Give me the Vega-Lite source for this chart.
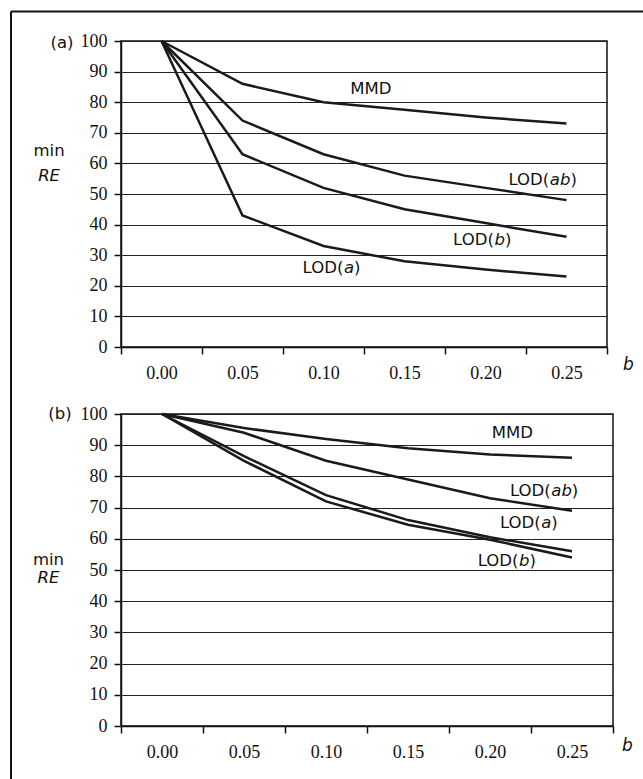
{
  "$schema": "https://vega.github.io/schema/vega-lite/v6.json",
  "padding": {"left": 9, "top": 9, "right": 0, "bottom": 0},
  "background": "white",
  "bounds": "flush",
  "spacing": 67,
  "config": {
    "view": {"stroke": "#111", "strokeWidth": 1.5},
    "axis": {
      "domainColor": "#111", "domainWidth": 1.5,
      "tickColor": "#111", "tickWidth": 1.5, "tickSize": 7,
      "gridColor": "#222", "gridWidth": 1, "gridOpacity": 1,
      "labelFont": "Liberation Serif", "labelFontSize": 18, "labelColor": "#111"
    },
    "text": {"font": "DejaVu Sans", "fontSize": 16.5, "color": "#111", "baseline": "middle"}
  },
  "vconcat": [
    {
      "width": 486,
      "height": 306,
      "resolve": {"axis": {"x": "independent", "y": "independent"}},
      "layer": [
        {
          "data": {"values": [
            {"s": "MMD", "b": 0.00, "re": 100}, {"s": "MMD", "b": 0.05, "re": 86}, {"s": "MMD", "b": 0.10, "re": 80}, {"s": "MMD", "b": 0.15, "re": 77.5}, {"s": "MMD", "b": 0.20, "re": 75}, {"s": "MMD", "b": 0.25, "re": 73},
            {"s": "LOD(ab)", "b": 0.00, "re": 100}, {"s": "LOD(ab)", "b": 0.05, "re": 74}, {"s": "LOD(ab)", "b": 0.10, "re": 63}, {"s": "LOD(ab)", "b": 0.15, "re": 56}, {"s": "LOD(ab)", "b": 0.20, "re": 52}, {"s": "LOD(ab)", "b": 0.25, "re": 48},
            {"s": "LOD(b)", "b": 0.00, "re": 100}, {"s": "LOD(b)", "b": 0.05, "re": 63}, {"s": "LOD(b)", "b": 0.10, "re": 52}, {"s": "LOD(b)", "b": 0.15, "re": 45}, {"s": "LOD(b)", "b": 0.20, "re": 40.5}, {"s": "LOD(b)", "b": 0.25, "re": 36},
            {"s": "LOD(a)", "b": 0.00, "re": 100}, {"s": "LOD(a)", "b": 0.05, "re": 43}, {"s": "LOD(a)", "b": 0.10, "re": 33}, {"s": "LOD(a)", "b": 0.15, "re": 28}, {"s": "LOD(a)", "b": 0.20, "re": 25.3}, {"s": "LOD(a)", "b": 0.25, "re": 23}
          ]},
          "mark": {"type": "line", "color": "#1a1a1a", "strokeWidth": 2.5},
          "encoding": {
            "x": {"field": "b", "type": "quantitative", "title": null,
              "scale": {"domain": [-0.025, 0.275], "nice": false, "zero": false},
              "axis": {"values": [-0.025, 0.025, 0.075, 0.125, 0.175, 0.225, 0.275], "grid": false, "labelExpr": "datum.value > 0.26 ? '' : format(round((datum.value + 0.025) * 100) / 100, '.2f')", "labelOffset": 40.5, "labelFlush": false, "labelOverlap": false, "labelPadding": 10, "title": null}},
            "y": {"field": "re", "type": "quantitative", "title": null,
              "scale": {"domain": [0, 100], "nice": false},
              "axis": {"values": [0, 10, 20, 30, 40, 50, 60, 70, 80, 90, 100], "grid": true, "labelOverlap": false, "labelPadding": 7, "title": null}},
            "detail": {"field": "s"}
          }
        },
        {
          "data": {"values": [
            {"t": "MMD", "x": 0.1165, "y": 84.3},
            {"t": "LOD(", "x": 0.2142, "y": 54.7}, {"t": ")", "x": 0.2524, "y": 54.7},
            {"t": "LOD(", "x": 0.1800, "y": 35.0}, {"t": ")", "x": 0.2120, "y": 35.0},
            {"t": "LOD(", "x": 0.0871, "y": 25.9}, {"t": ")", "x": 0.1188, "y": 25.9}
          ]},
          "mark": {"type": "text", "align": "left"},
          "encoding": {"x": {"field": "x", "type": "quantitative", "axis": null}, "y": {"field": "y", "type": "quantitative", "axis": null}, "text": {"field": "t"}}
        },
        {
          "data": {"values": [
            {"t": "ab", "x": 0.2397, "y": 54.7}, {"t": "b", "x": 0.2055, "y": 35.0}, {"t": "a", "x": 0.1126, "y": 25.9}
          ]},
          "mark": {"type": "text", "align": "left", "fontStyle": "italic"},
          "encoding": {"x": {"field": "x", "type": "quantitative", "axis": null}, "y": {"field": "y", "type": "quantitative", "axis": null}, "text": {"field": "t"}}
        },
        {
          "data": {"values": [{}]},
          "mark": {"type": "text", "align": "center"},
          "encoding": {"x": {"datum": -0.0694, "axis": null}, "y": {"datum": 63.9, "axis": null}, "text": {"value": "min"}}
        },
        {
          "data": {"values": [{}]},
          "mark": {"type": "text", "align": "center", "fontStyle": "italic"},
          "encoding": {"x": {"datum": -0.0694, "axis": null}, "y": {"datum": 55.8, "axis": null}, "text": {"value": "RE"}}
        },
        {
          "data": {"values": [{}]},
          "mark": {"type": "text", "align": "center", "fontStyle": "italic", "fontSize": 17},
          "encoding": {"x": {"datum": 0.2882, "axis": null}, "y": {"datum": -5.87, "axis": null}, "text": {"value": "b"}}
        },
        {
          "data": {"values": [{}]},
          "mark": {"type": "text", "align": "right"},
          "encoding": {"x": {"datum": -0.0543, "axis": null}, "y": {"datum": 99.2, "axis": null}, "text": {"value": "(a)"}}
        },
        {
          "data": {"values": [{}]},
          "mark": {"type": "rule", "color": "#111", "strokeWidth": 2},
          "encoding": {"x": {"datum": -0.0929, "axis": null}, "x2": {"datum": 0.2977}, "y": {"datum": 109.6, "axis": null}}
        },
        {
          "data": {"values": [{}]},
          "mark": {"type": "rule", "color": "#111", "strokeWidth": 2},
          "encoding": {"x": {"datum": -0.0929, "axis": null}, "y": {"datum": 109.6, "axis": null}, "y2": {"datum": -141.3}}
        }
      ]
    },
    {
      "width": 492,
      "height": 312,
      "resolve": {"axis": {"x": "independent", "y": "independent"}},
      "layer": [
        {
          "data": {"values": [
            {"s": "MMD", "b": 0.00, "re": 100}, {"s": "MMD", "b": 0.05, "re": 95.5}, {"s": "MMD", "b": 0.10, "re": 92}, {"s": "MMD", "b": 0.15, "re": 89}, {"s": "MMD", "b": 0.20, "re": 87}, {"s": "MMD", "b": 0.25, "re": 86},
            {"s": "LOD(ab)", "b": 0.00, "re": 100}, {"s": "LOD(ab)", "b": 0.05, "re": 94}, {"s": "LOD(ab)", "b": 0.10, "re": 85}, {"s": "LOD(ab)", "b": 0.15, "re": 79}, {"s": "LOD(ab)", "b": 0.20, "re": 73}, {"s": "LOD(ab)", "b": 0.25, "re": 69},
            {"s": "LOD(a)", "b": 0.00, "re": 100}, {"s": "LOD(a)", "b": 0.05, "re": 86.5}, {"s": "LOD(a)", "b": 0.10, "re": 74}, {"s": "LOD(a)", "b": 0.15, "re": 66}, {"s": "LOD(a)", "b": 0.20, "re": 60.5}, {"s": "LOD(a)", "b": 0.25, "re": 56},
            {"s": "LOD(b)", "b": 0.00, "re": 100}, {"s": "LOD(b)", "b": 0.05, "re": 85}, {"s": "LOD(b)", "b": 0.10, "re": 72}, {"s": "LOD(b)", "b": 0.15, "re": 64.5}, {"s": "LOD(b)", "b": 0.20, "re": 59.7}, {"s": "LOD(b)", "b": 0.25, "re": 54}
          ]},
          "mark": {"type": "line", "color": "#1a1a1a", "strokeWidth": 2.5},
          "encoding": {
            "x": {"field": "b", "type": "quantitative", "title": null,
              "scale": {"domain": [-0.025, 0.275], "nice": false, "zero": false},
              "axis": {"values": [-0.025, 0.025, 0.075, 0.125, 0.175, 0.225, 0.275], "grid": false, "labelExpr": "datum.value > 0.26 ? '' : format(round((datum.value + 0.025) * 100) / 100, '.2f')", "labelOffset": 41, "labelFlush": false, "labelOverlap": false, "labelPadding": 10, "title": null}},
            "y": {"field": "re", "type": "quantitative", "title": null,
              "scale": {"domain": [0, 100], "nice": false},
              "axis": {"values": [0, 10, 20, 30, 40, 50, 60, 70, 80, 90, 100], "grid": true, "labelOverlap": false, "labelPadding": 7, "title": null}},
            "detail": {"field": "s"}
          }
        },
        {
          "data": {"values": [
            {"t": "MMD", "x": 0.2011, "y": 94.0},
            {"t": "LOD(", "x": 0.2122, "y": 75.3}, {"t": ")", "x": 0.2499, "y": 75.3},
            {"t": "LOD(", "x": 0.2061, "y": 65.2}, {"t": ")", "x": 0.2374, "y": 65.2},
            {"t": "LOD(", "x": 0.1925, "y": 52.9}, {"t": ")", "x": 0.2241, "y": 52.9}
          ]},
          "mark": {"type": "text", "align": "left"},
          "encoding": {"x": {"field": "x", "type": "quantitative", "axis": null}, "y": {"field": "y", "type": "quantitative", "axis": null}, "text": {"field": "t"}}
        },
        {
          "data": {"values": [
            {"t": "ab", "x": 0.2374, "y": 75.3}, {"t": "a", "x": 0.2313, "y": 65.2}, {"t": "b", "x": 0.2177, "y": 52.9}
          ]},
          "mark": {"type": "text", "align": "left", "fontStyle": "italic"},
          "encoding": {"x": {"field": "x", "type": "quantitative", "axis": null}, "y": {"field": "y", "type": "quantitative", "axis": null}, "text": {"field": "t"}}
        },
        {
          "data": {"values": [{}]},
          "mark": {"type": "text", "align": "center"},
          "encoding": {"x": {"datum": -0.0692, "axis": null}, "y": {"datum": 53.2, "axis": null}, "text": {"value": "min"}}
        },
        {
          "data": {"values": [{}]},
          "mark": {"type": "text", "align": "center", "fontStyle": "italic"},
          "encoding": {"x": {"datum": -0.0692, "axis": null}, "y": {"datum": 47.3, "axis": null}, "text": {"value": "RE"}}
        },
        {
          "data": {"values": [{}]},
          "mark": {"type": "text", "align": "center", "fontStyle": "italic", "fontSize": 17},
          "encoding": {"x": {"datum": 0.2838, "axis": null}, "y": {"datum": -6.4, "axis": null}, "text": {"value": "b"}}
        },
        {
          "data": {"values": [{}]},
          "mark": {"type": "text", "align": "right"},
          "encoding": {"x": {"datum": -0.0551, "axis": null}, "y": {"datum": 100, "axis": null}, "text": {"value": "(b)"}}
        }
      ]
    }
  ]
}
